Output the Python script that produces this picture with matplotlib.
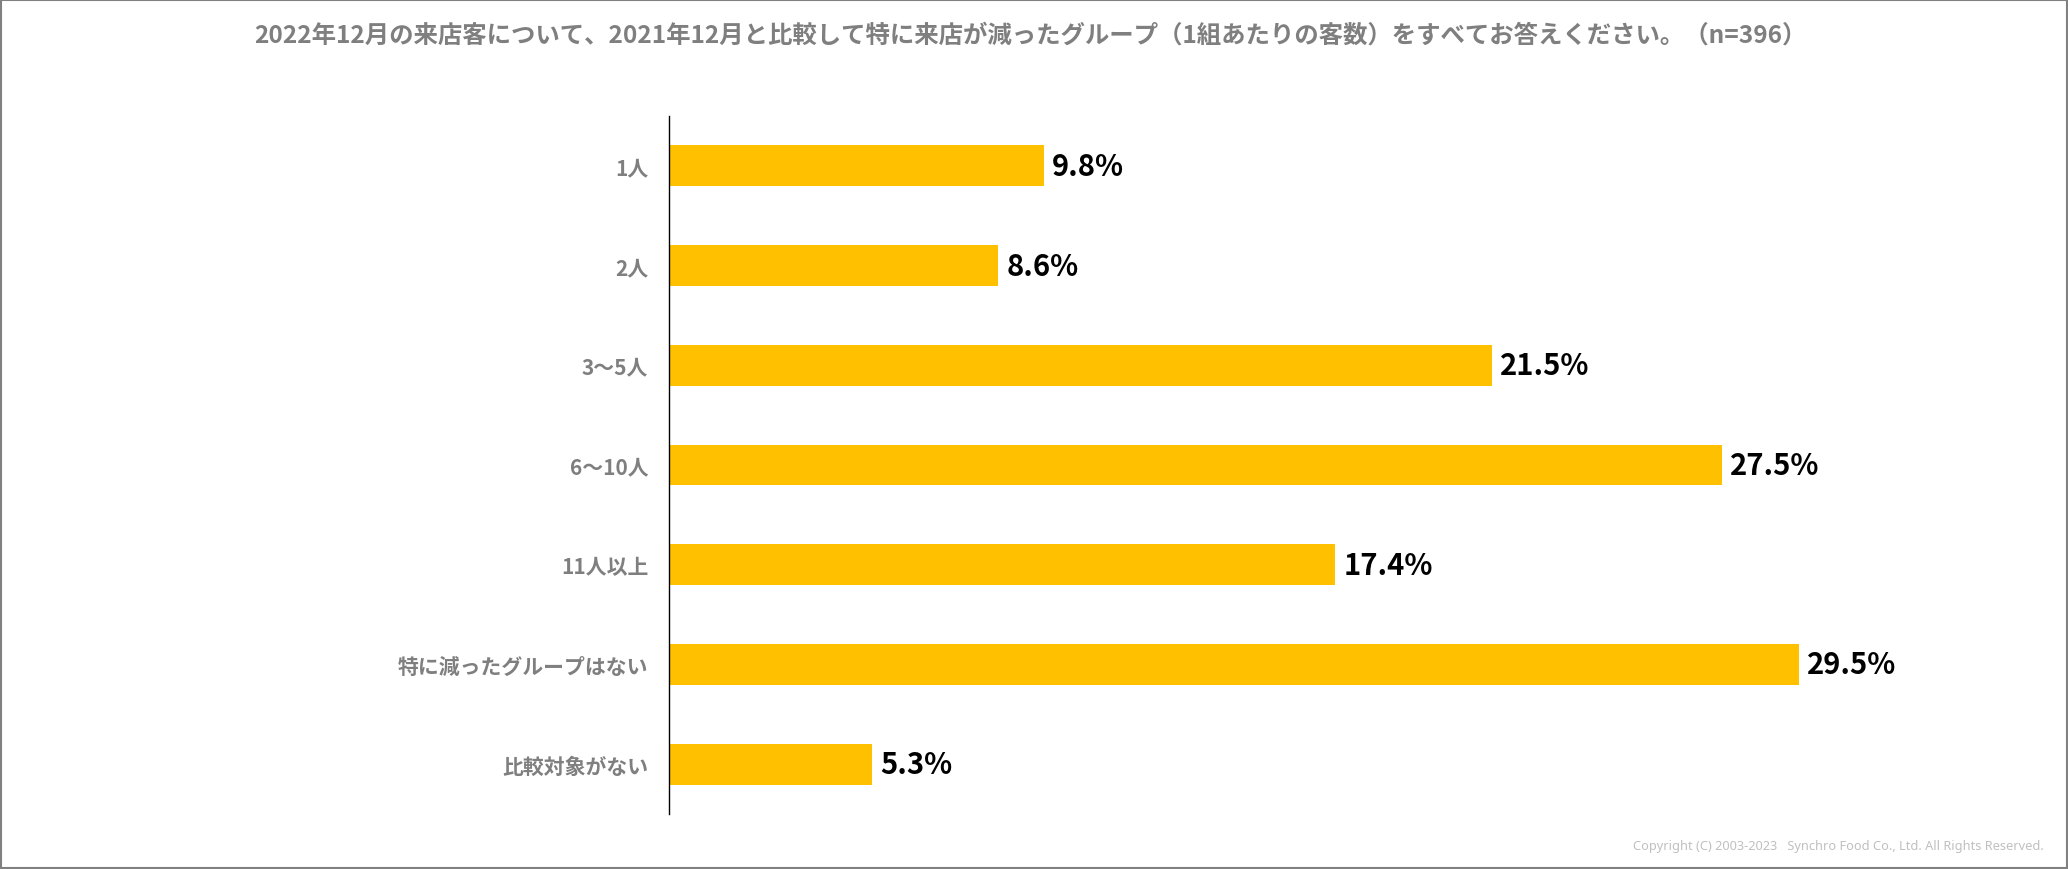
import matplotlib
matplotlib.use("Agg")
import matplotlib.pyplot as plt
from matplotlib.patches import Rectangle

plt.rcParams['font.family'] = ['Noto Sans CJK JP', 'DejaVu Sans']

categories = ["1人", "2人", "3〜5人", "6〜10人", "11人以上", "特に減ったグループはない", "比較対象がない"]
values = [9.8, 8.6, 21.5, 27.5, 17.4, 29.5, 5.3]
value_labels = ["9.8%", "8.6%", "21.5%", "27.5%", "17.4%", "29.5%", "5.3%"]
title = "2022年12月の来店客について、2021年12月と比較して特に来店が減ったグループ（1組あたりの客数）をすべてお答えください。（n=396）"
copyright_text = "Copyright (C) 2003-2023   Synchro Food Co., Ltd. All Rights Reserved."

W, H = 2068, 870
fig = plt.figure(figsize=(W / 100, H / 100), dpi=100)
fig.patch.set_facecolor("white")

xmax = 32
ax_left = 669 / W
ax_width = xmax * 38.3 / W
ax_bottom = 1 - 815 / H
ax_height = (815 - 117) / H
ax = fig.add_axes([ax_left, ax_bottom, ax_width, ax_height])

y = list(range(len(categories)))
ax.barh(y, values, height=0.41, color="#FFC000", zorder=2)
ax.set_ylim(len(categories) - 0.5, -0.5)
ax.set_xlim(0, xmax)

for s in ["top", "right", "bottom"]:
    ax.spines[s].set_visible(False)
ax.spines["left"].set_color("black")
ax.spines["left"].set_linewidth(1.0)
ax.set_xticks([])
ax.set_yticks(y)
ax.set_yticklabels(categories, fontsize=15, fontweight="bold", color="#7f7f7f")
ax.tick_params(axis="y", length=0, pad=15)

px = xmax / (ax_width * W)
for yi, v, lab in zip(y, values, value_labels):
    ax.text(v + 8 * px, yi, lab, ha="left", va="center", fontsize=21,
            fontweight="bold", color="black")

fig.text(1030 / W, 1 - 36 / H, title, ha="center", va="center", fontsize=17.6,
         fontweight="bold", color="#7f7f7f")
fig.text(2044 / W, 1 - 847 / H, copyright_text, ha="right", va="center",
         fontsize=9.2, color="#c0c0c0", family=["Noto Sans", "DejaVu Sans"])

fig.patches.append(Rectangle((0.0005, 0.001), 0.999, 0.998, transform=fig.transFigure,
                             fill=False, edgecolor="#808080", linewidth=1.5))

fig.savefig("out.png", dpi=100, facecolor="white")
